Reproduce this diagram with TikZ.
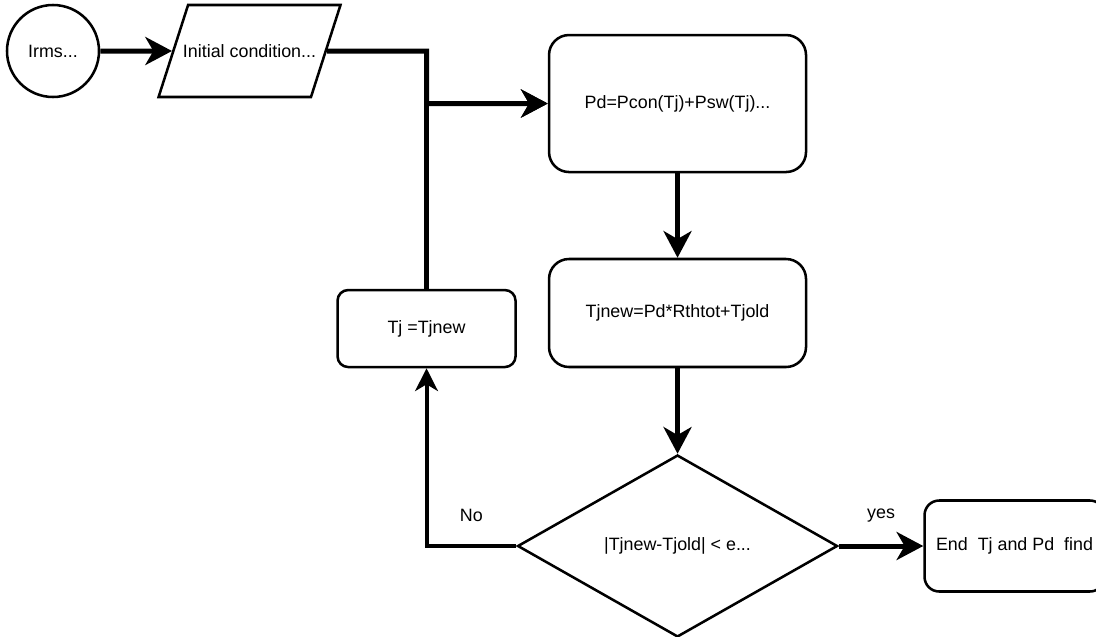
\documentclass[tikz,border=0pt]{standalone}
\usepackage{fontspec}
\setmainfont{Liberation Sans}
\usetikzlibrary{shapes,arrows.meta}
\usetikzlibrary{positioning}
\tikzset{box/.style={draw,line width=1.9pt,rounded corners=15pt,align=center},
flow/.style={line width=3.75pt,-{Stealth[length=20pt,width=21pt,inset=6pt]}},
back/.style={line width=3pt,-{Stealth[length=17pt,width=17pt,inset=5pt]}}
}

\begin{document}
\begin{tikzpicture}[on grid, font=\fontsize{13.4}{16}\selectfont]
          \useasboundingbox (0,0) rectangle (822pt,-477pt);
          \node[draw,circle,line width=1.9pt,minimum size=69pt,inner sep=0pt] (irms) at (39.75pt,-38.25pt) {Irms...};
          \node[draw,trapezium,trapezium left angle=72,trapezium right angle=108,
                trapezium stretches=true,minimum width=136.5pt,minimum height=69pt,
                inner xsep=-4pt,inner ysep=29pt,
                line width=1.9pt]        (init)  [right=147.4pt of irms] {Initial condition...};
          \node[box,minimum width=192.75pt,minimum height=102.75pt] (pd) [below right=39.4pt and 321pt of init] {Pd=Pcon(Tj)+Psw(Tj)...};
          \node[box,minimum width=192.75pt,minimum height=81pt]     (tjnew) [below=157.1pt of pd] {Tjnew=Pd*Rthtot+Tjold};
          \node[draw,diamond,line width=1.9pt,minimum width=240pt,minimum height=136.5pt,
                inner sep=0pt]           (dec)   [below=174.75pt of tjnew] {|Tjnew-Tjold| < e...};
          \node[box,rounded corners=11pt,minimum width=135pt,minimum height=68.25pt] (end) [right=252.75pt of dec] {End\ \ Tj and Pd\ \ find};
          \node[box,rounded corners=8pt,minimum width=133.5pt,minimum height=57.75pt] (tj) [above left=163.1pt and 188.25pt of dec] {Tj =Tjnew};

          \draw[flow] (irms) -- (init);
          \draw[flow] (init) -- (init -| tj) |- (pd);
          \draw[flow] (tj) |- (pd);
          \draw[flow] (pd) -- (tjnew);
          \draw[flow] (tjnew) -- (dec);
          \draw[flow] (dec) -- node[midway,yshift=22.5pt] {yes} (end);
          \draw[back] (dec) -| node[pos=0.25,yshift=23pt] {No} (tj);
        \end{tikzpicture}
\end{document}
